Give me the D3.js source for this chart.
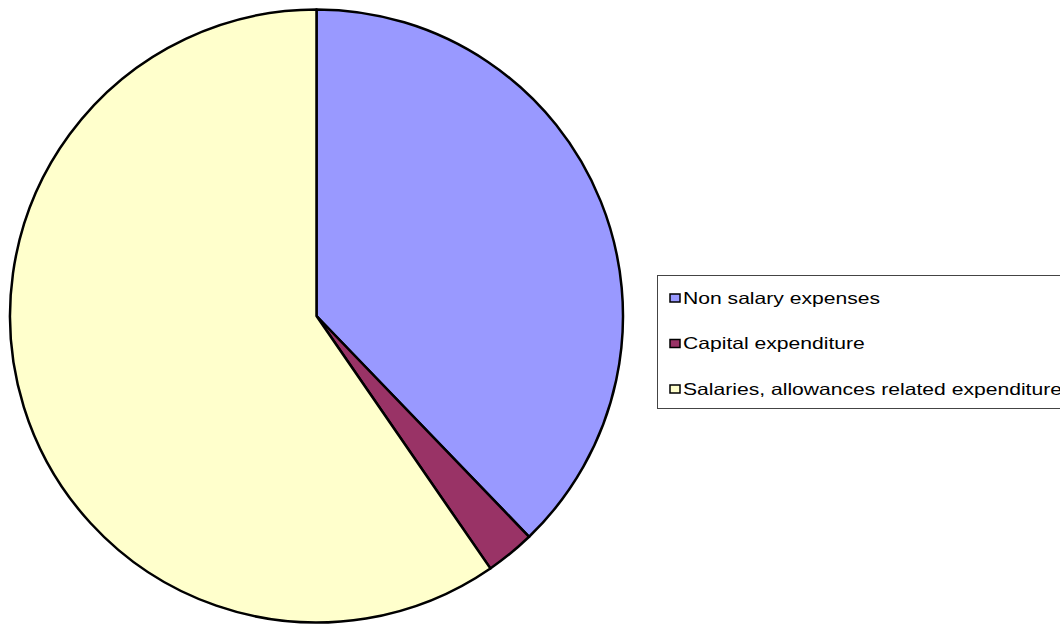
<!DOCTYPE html>
<html>
<head>
<meta charset="utf-8">
<script src="https://cdn.jsdelivr.net/npm/d3@7"></script>
<style>
  body { margin: 0; background: #fff; }
  svg { display: block; }
</style>
</head>
<body>
<div id="chart"></div>
<script>
// data (share of total)
var categories = ["Non salary expenses", "Capital expenditure", "Salaries, allowances related expenditure"];
var values = [37.8, 2.6, 59.6];
var colors = ["#9999FF", "#993366", "#FFFFCC"];

var width = 1060, height = 625;
var cx = 316.5, cy = 316, radius = 306.5;

var svg = d3.select("#chart")
  .append("svg")
    .attr("width", width)
    .attr("height", height);

var data = categories.map(function(c, i) { return {name: c, value: values[i], color: colors[i]}; });

var pie = d3.pie()
  .sort(null)
  .value(function(d) { return d.value; });

var arc = d3.arc()
  .innerRadius(0)
  .outerRadius(radius);

svg.append("g")
    .attr("transform", "translate(" + cx + "," + cy + ")")
  .selectAll("path")
  .data(pie(data))
  .enter().append("path")
    .attr("d", arc)
    .attr("fill", function(d) { return d.data.color; })
    .attr("stroke", "black")
    .attr("stroke-width", 2.5)
    .attr("stroke-linejoin", "round");

// legend (the reference legend runs past the right edge of the picture)
var lx = 657.5, ly = 275.5, rowH = 45.5;
svg.append("rect")
  .attr("x", lx)
  .attr("y", ly)
  .attr("width", 420)
  .attr("height", 133)
  .attr("fill", "white")
  .attr("stroke", "#444")
  .attr("stroke-width", 1);

var item = svg.append("g")
  .selectAll("g")
  .data(data)
  .enter().append("g")
    .attr("transform", function(d, i) { return "translate(" + (lx + 12) + "," + (ly + 22.5 + i * rowH) + ")"; });

item.append("rect")
  .attr("x", 0.5)
  .attr("y", -4)
  .attr("width", 10)
  .attr("height", 8)
  .attr("fill", function(d) { return d.color; })
  .attr("stroke", "black")
  .attr("stroke-width", 1.5);

// the legend text in the picture is drawn wider than plain Arial
item.append("text")
  .attr("transform", "translate(13.5,0) scale(1.28,1)")
  .attr("y", 5.5)
  .style("font-family", "'Liberation Sans', Arial, sans-serif")
  .style("font-size", "16.5px")
  .style("fill", "black")
  .text(function(d) { return d.name; });
</script>
</body>
</html>
